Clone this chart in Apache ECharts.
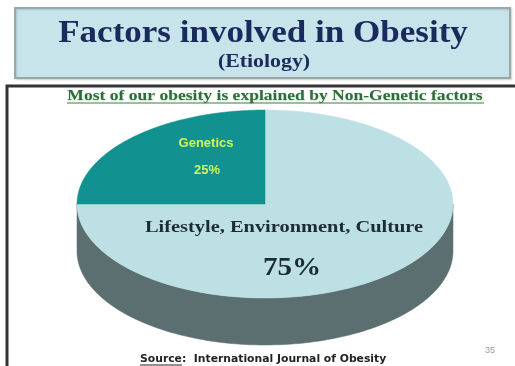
<!DOCTYPE html>
<html>
<head>
<meta charset="utf-8">
<script src="https://cdn.jsdelivr.net/npm/echarts@6/dist/echarts.min.js"></script>
<style>
html,body{margin:0;padding:0;background:#fff;}
#c{width:515px;height:366px;}
</style>
</head>
<body>
<div id="c"></div>
<script>
// ---- data ----
var categories = ['Lifestyle, Environment, Culture', 'Genetics'];
var values = [75, 25];
var titleText = 'Factors involved in Obesity';
var subTitleText = '(Etiology)';
var noteText = 'Most of our obesity is explained by Non-Genetic factors';
var sourceLabel = 'Source';
var sourceText = ':  International Journal of Obesity';
var pageNo = '35';

// ---- styling / geometry ----
var topColors = ['#bde0e5', '#11918f'];
var sideColors = ['#5b6f70', '#0b6664'];
var CX = 265, CY = 204, RX = 188, RY = 94, DEPTH = 47;
var total = values.reduce(function (a, b) { return a + b; }, 0);
var startAngles = [];
(function () {
  var a = -Math.PI / 2;
  for (var i = 0; i < values.length; i++) { startAngles.push(a); a += values[i] / total * Math.PI * 2; }
})();

function ellPt(t, dy) { return [CX + RX * Math.cos(t), CY + RY * Math.sin(t) + (dy || 0)]; }

function renderSlice(params, api) {
  var i = params.dataIndex;
  var v = api.value(0);
  var a0 = startAngles[i];
  var a1 = a0 + v / total * Math.PI * 2;
  var children = [];
  for (var k = -1; k <= 1; k++) {
    var s = Math.max(a0, 0 + 2 * Math.PI * k);
    var e = Math.min(a1, Math.PI + 2 * Math.PI * k);
    if (e > s) {
      var pts = [], n = 120, j;
      for (j = 0; j <= n; j++) pts.push(ellPt(s + (e - s) * j / n, 0));
      for (j = n; j >= 0; j--) pts.push(ellPt(s + (e - s) * j / n, DEPTH));
      children.push({ type: 'polygon', shape: { points: pts }, style: { fill: sideColors[i], stroke: sideColors[i], lineWidth: 0.5 } });
    }
  }
  var tp = [[CX, CY]];
  var m = 240;
  for (var q = 0; q <= m; q++) tp.push(ellPt(a0 + (a1 - a0) * q / m, 0));
  children.push({ type: 'polygon', shape: { points: tp }, style: { fill: topColors[i], stroke: topColors[i], lineWidth: 0.5 } });
  return { type: 'group', children: children };
}

var SERIF = '"Liberation Serif", "DejaVu Serif", serif';
var SANS = '"Liberation Sans", Arial, sans-serif';

var chart = echarts.init(document.getElementById('c'));
chart.setOption({
  backgroundColor: '#ffffff',
  animation: false,
  graphic: [
    { type: 'rect', shape: { x: 15, y: 8, width: 495, height: 70 }, style: { fill: '#c6e4ea', stroke: '#9aa8aa', lineWidth: 2, shadowColor: 'rgba(0,0,0,0.15)', shadowBlur: 2, shadowOffsetX: 1, shadowOffsetY: 1 }, z: 0 },
    { type: 'text', x: 263, y: 34, scaleX: 1.13, style: { text: titleText, font: 'bold 31px ' + SERIF, fill: '#1b2a5c', textAlign: 'center', textVerticalAlign: 'middle' }, z: 1 },
    { type: 'text', x: 264, y: 62, scaleX: 1.15, style: { text: subTitleText, font: 'bold 19px ' + SERIF, fill: '#1b2a5c', textAlign: 'center', textVerticalAlign: 'middle' }, z: 1 },
    { type: 'polyline', shape: { points: [[7, 366], [7, 86], [515, 86]] }, style: { stroke: '#333', lineWidth: 3, fill: null }, z: 0 },
    { type: 'text', x: 275, y: 96, scaleX: 1.17, style: { text: noteText, font: 'bold 15px ' + SERIF, fill: '#2f6a3c', textAlign: 'center', textVerticalAlign: 'middle', textShadowColor: '#b6dfb4', textShadowBlur: 2, textShadowOffsetY: 1 }, z: 1 },
    { type: 'line', shape: { x1: 67, y1: 103, x2: 484, y2: 103 }, style: { stroke: '#3d7a48', lineWidth: 1 }, z: 1 },
    { type: 'text', x: 206, y: 143, style: { text: categories[1], font: 'bold 13px ' + SANS, fill: '#d3f35c', textAlign: 'center', textVerticalAlign: 'middle' }, z: 10 },
    { type: 'text', x: 207, y: 170, style: { text: values[1] + '%', font: 'bold 13px ' + SANS, fill: '#d3f35c', textAlign: 'center', textVerticalAlign: 'middle' }, z: 10 },
    { type: 'text', x: 284, y: 228, scaleX: 1.2, style: { text: categories[0], font: 'bold 17px ' + SERIF, fill: '#1c2b35', textAlign: 'center', textVerticalAlign: 'middle' }, z: 10 },
    { type: 'text', x: 292, y: 268, scaleX: 1.12, style: { text: values[0] + '%', font: 'bold 26px ' + SERIF, fill: '#1c2b35', textAlign: 'center', textVerticalAlign: 'middle' }, z: 10 },
    { type: 'text', x: 140, y: 359, style: { text: sourceLabel + sourceText, font: 'bold 10.8px "DejaVu Sans", sans-serif', fill: '#222', textAlign: 'left', textVerticalAlign: 'middle' }, z: 10 },
    { type: 'line', shape: { x1: 140, y1: 365, x2: 182, y2: 365 }, style: { stroke: '#222', lineWidth: 1 }, z: 10 },
    { type: 'text', x: 490, y: 351, style: { text: pageNo, font: '9px ' + SANS, fill: '#999', textAlign: 'center', textVerticalAlign: 'middle' }, z: 10 }
  ],
  series: [{
    type: 'custom',
    coordinateSystem: 'none',
    renderItem: renderSlice,
    data: values.map(function (v, i) { return { name: categories[i], value: [v] }; }),
    z: 2
  }]
});
</script>
</body>
</html>
